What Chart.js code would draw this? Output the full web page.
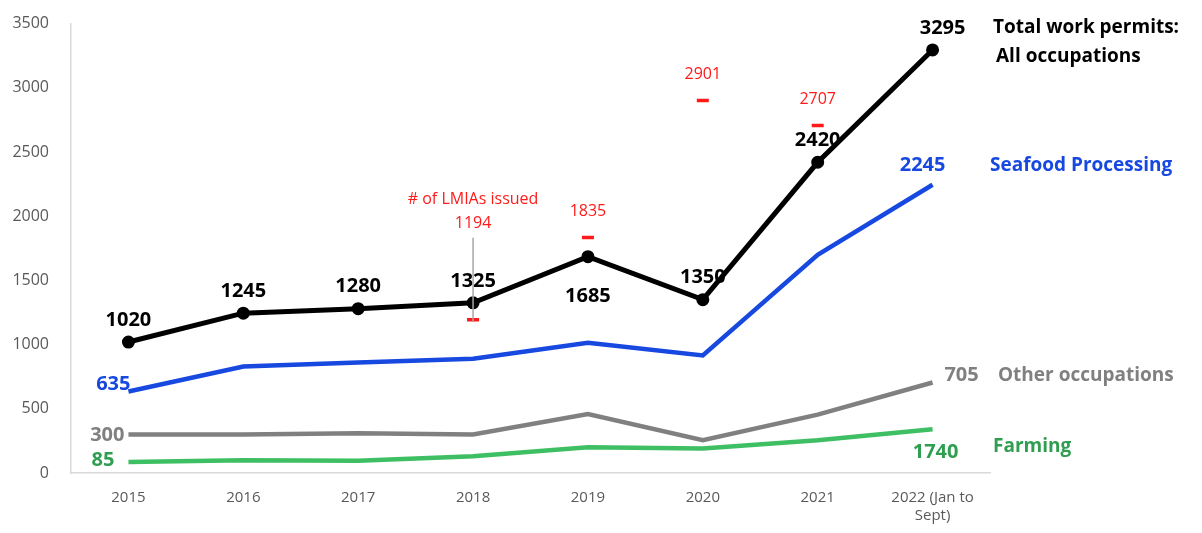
<!DOCTYPE html>
<html>
<head>
<meta charset="utf-8">
<script src="https://cdn.jsdelivr.net/npm/chart.js@4/dist/chart.umd.min.js"></script>
<style>
  html, body { margin: 0; padding: 0; background: #fff; }
  #wrap { width: 1202px; height: 533px; position: relative; }
</style>
</head>
<body>
<div id="wrap"><canvas id="permitsChart"></canvas></div>
<script>
// years on the x axis
const years = ['2015', '2016', '2017', '2018', '2019', '2020', '2021', ['2022 (Jan to', 'Sept)']];

// work permits by occupation
const totalPermits = [1020, 1245, 1280, 1325, 1685, 1350, 2420, 3295];
const seafoodPermits = [635, 830, 860, 890, 1015, 915, 1700, 2245];
const otherPermits = [300, 300, 310, 300, 460, 255, 455, 705];
const farmingPermits = [85, 100, 95, 130, 200, 190, 255, 340];

// LMIAs issued (only 2018-2021 shown)
const lmiaIssued = [null, null, null, 1194, 1835, 2901, 2707, null];

// text labels shown next to points (as printed in the original)
const totalLabels = ['1020', '1245', '1280', '1325', '1685', '1350', '2420', '3295'];
const seafoodLabels = ['635', '', '', '', '', '', '', '2245'];
const otherLabels = ['300', '', '', '', '', '', '', '705'];
const farmingLabels = ['85', '', '', '', '', '', '', '1740'];
const lmiaLabels = ['', '', '', '1194', '1835', '2901', '2707', ''];

const BLACK = '#000000';
const BLUE = '#1749e0';
const GRAY = '#808080';
const GREEN = '#3fbf63';
const GREEN_TEXT = '#2f9e50';
const RED = '#ff1a1a';

const labelFont = 'bold 20px "Open Sans", "Noto Sans", sans-serif';
const seriesFont = 'bold 19px "Open Sans", "Noto Sans", sans-serif';

// draws the value labels, LMIA labels and the series names on the right
const annotationPlugin = {
    id: 'annotations',
    afterDatasetsDraw(chart) {
        const ctx = chart.ctx;
        const xs = chart.scales.x;
        const ys = chart.scales.y;
        const px = i => xs.getPixelForValue(i);
        const py = v => ys.getPixelForValue(v);

        ctx.save();
        ctx.textBaseline = 'middle';

        // total permits labels: above the point, except 2019 below
        ctx.font = labelFont;
        ctx.fillStyle = BLACK;
        ctx.textAlign = 'center';
        totalPermits.forEach((v, i) => {
            const dy = (i === 4) ? 40 : -22;
            let dx = 0;
            if (i === 7) dx = 10;
            ctx.fillText(totalLabels[i], px(i) + dx, py(v) + dy);
        });

        // left-side starting labels
        ctx.textAlign = 'right';
        ctx.fillStyle = BLUE;
        ctx.fillText(seafoodLabels[0], px(0) + 2, py(seafoodPermits[0]) - 7);
        ctx.fillStyle = GRAY;
        ctx.fillText(otherLabels[0], px(0) - 4, py(otherPermits[0]) + 1);
        ctx.fillStyle = GREEN_TEXT;
        ctx.fillText(farmingLabels[0], px(0) - 14, py(farmingPermits[0]) - 2);

        // end labels
        ctx.textAlign = 'center';
        ctx.fillStyle = BLUE;
        ctx.fillText(seafoodLabels[7], px(7) - 10, py(seafoodPermits[7]) - 19);
        ctx.fillStyle = GRAY;
        ctx.fillText(otherLabels[7], px(7) + 29, py(otherPermits[7]) - 7);
        ctx.fillStyle = GREEN_TEXT;
        ctx.fillText(farmingLabels[7], px(7) + 3, py(farmingPermits[7]) + 23);

        // LMIA labels
        ctx.font = '16px "Open Sans", "Noto Sans", sans-serif';
        ctx.fillStyle = RED;
        lmiaIssued.forEach((v, i) => {
            if (v === null) return;
            const dy = (i === 3) ? -96 : -26;
            ctx.fillText(lmiaLabels[i], px(i), py(v) + dy);
        });
        ctx.fillText('# of LMIAs issued', px(3), py(lmiaIssued[3]) - 120);

        // leader line for the 2018 LMIA label
        ctx.strokeStyle = '#a6a6a6';
        ctx.lineWidth = 1.5;
        ctx.beginPath();
        ctx.moveTo(px(3), py(lmiaIssued[3]) - 82);
        ctx.lineTo(px(3), py(lmiaIssued[3]) + 2);
        ctx.stroke();

        // series names on the right
        const right = chart.chartArea.right;
        ctx.textAlign = 'left';
        ctx.font = seriesFont;
        ctx.fillStyle = BLACK;
        ctx.fillText('Total work permits:', right + 3, 28);
        ctx.fillText('All occupations', right + 6, 57);
        ctx.fillStyle = BLUE;
        ctx.fillText('Seafood Processing', right, py(seafoodPermits[7]) - 19);
        ctx.fillStyle = GRAY;
        ctx.fillText('Other occupations', right + 8, py(otherPermits[7]) - 7);
        ctx.fillStyle = GREEN_TEXT;
        ctx.fillText('Farming', right + 3, py(farmingPermits[7]) + 17);

        ctx.restore();
    }
};

const ctx = document.getElementById('permitsChart').getContext('2d');
new Chart(ctx, {
    type: 'line',
    data: {
        labels: years,
        datasets: [
            {
                label: 'Farming',
                data: farmingPermits,
                borderColor: GREEN,
                borderWidth: 4.5,
                pointRadius: 0,
                tension: 0
            },
            {
                label: 'Other occupations',
                data: otherPermits,
                borderColor: GRAY,
                borderWidth: 4.5,
                pointRadius: 0,
                tension: 0
            },
            {
                label: 'Seafood Processing',
                data: seafoodPermits,
                borderColor: BLUE,
                borderWidth: 4.5,
                pointRadius: 0,
                tension: 0
            },
            {
                label: 'Total work permits',
                data: totalPermits,
                borderColor: BLACK,
                backgroundColor: BLACK,
                borderWidth: 5,
                pointRadius: 4,
                pointBackgroundColor: BLACK,
                tension: 0
            },
            {
                label: '# of LMIAs issued',
                data: lmiaIssued,
                showLine: false,
                borderColor: RED,
                pointStyle: 'line',
                pointRadius: 6,
                pointBorderWidth: 3.5,
                pointBorderColor: RED
            }
        ]
    },
    options: {
        responsive: true,
        maintainAspectRatio: false,
        animation: false,
        layout: {
            padding: { top: 2, right: 212, bottom: 0, left: 10 }
        },
        scales: {
            x: {
                offset: true,
                grid: { display: false },
                border: { color: '#d9d9d9', width: 1.5 },
                ticks: {
                    color: '#595959',
                    font: { size: 15, family: '"Open Sans", "Noto Sans", sans-serif' },
                    maxRotation: 0,
                    padding: 8
                }
            },
            y: {
                min: 0,
                max: 3500,
                grid: { display: false },
                border: { color: '#d9d9d9', width: 1.5 },
                afterFit: s => { s.width = 61; },
                ticks: {
                    stepSize: 500,
                    color: '#595959',
                    font: { size: 16, family: '"Open Sans", "Noto Sans", sans-serif' },
                    padding: 14,
                    callback: v => String(v)
                }
            }
        },
        plugins: {
            legend: { display: false },
            tooltip: { enabled: false }
        }
    },
    plugins: [annotationPlugin]
});
</script>
</body>
</html>
